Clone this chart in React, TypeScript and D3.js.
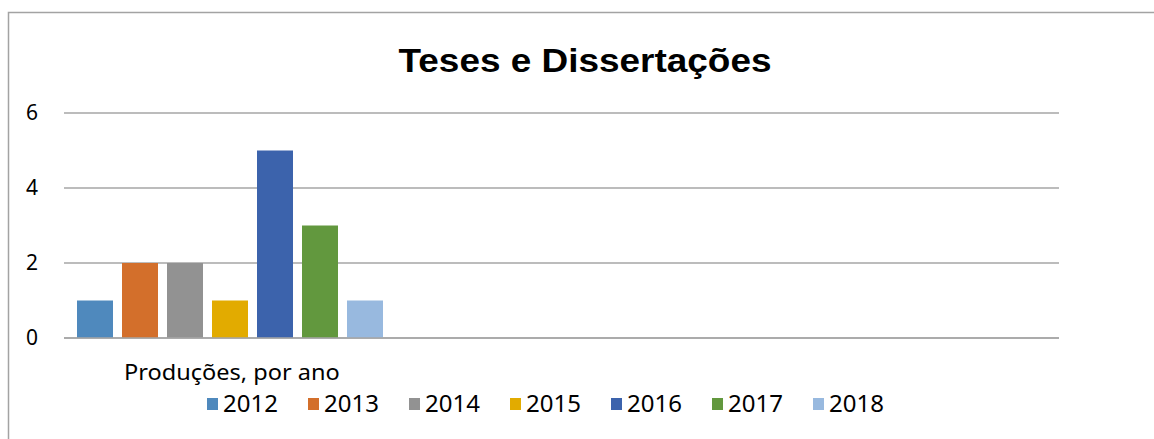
import React from 'react';
import * as d3 from 'd3';

const years = ['2012', '2013', '2014', '2015', '2016', '2017', '2018'];
const counts = [1, 2, 2, 1, 5, 3, 1];
const colors = ['#4f89bd', '#d36f2b', '#929292', '#e2ab00', '#3c63ac', '#62983e', '#98b9df'];
const yTicks = [0, 2, 4, 6];
const title = 'Teses e Dissertações';
const categoryLabel = 'Produções, por ano';

const W = 1154;
const H = 439;
const font = '"Noto Sans", sans-serif';

const App = () => {
  const y = d3.scaleLinear().domain([0, 6]).range([338, 113]);

  // one category, seven series clustered on the left side of the plot
  const x = d3.scaleBand()
    .domain(years)
    .range([72.5, 387.5])
    .paddingInner(0.2)
    .paddingOuter(0.1);

  const legendX = d3.scalePoint().domain(years).range([207, 813]);

  return (
    <svg width={W} height={H} style={{ position: 'absolute', left: 0, top: 0, background: '#fff' }}>
      <rect x={8.5} y={12.5} width={1300} height={600} fill="#fff" stroke="#a3a3a3" strokeWidth={1.5} />

      {/* the original title is a bit wider than Arial Bold, so stretch it */}
      <text transform="translate(585,72) scale(1.12,1)" textAnchor="middle"
        fontFamily='"Liberation Sans", Arial, sans-serif'
        fontWeight="bold" fontSize={33} fill="#000">{title}</text>

      {yTicks.map(t => (
        <g key={t}>
          <line x1={64} x2={1059} y1={y(t)} y2={y(t)} stroke="#a6a6a6" strokeWidth={1.5} />
          <text x={38} y={y(t)} dy="0.35em" textAnchor="end" fontFamily={font} fontSize={21} fill="#000">{t}</text>
        </g>
      ))}

      {years.map((yr, i) => (
        <rect key={yr} x={x(yr)} y={y(counts[i])} width={x.bandwidth()} height={y(0) - y(counts[i])} fill={colors[i]} />
      ))}
      <line x1={64} x2={1059} y1={y(0)} y2={y(0)} stroke="#a6a6a6" strokeWidth={1.5} />

      <text transform="translate(124,380) scale(1.07,1)" fontFamily={font} fontSize={22} fill="#000">{categoryLabel}</text>

      {years.map((yr, i) => (
        <g key={yr} transform={`translate(${legendX(yr)},0)`}>
          <rect x={0} y={398} width={11} height={12} fill={colors[i]} />
          <text x={16} y={412} fontFamily={font} fontSize={24} fill="#000">{yr}</text>
        </g>
      ))}
    </svg>
  );
};

export default App;
